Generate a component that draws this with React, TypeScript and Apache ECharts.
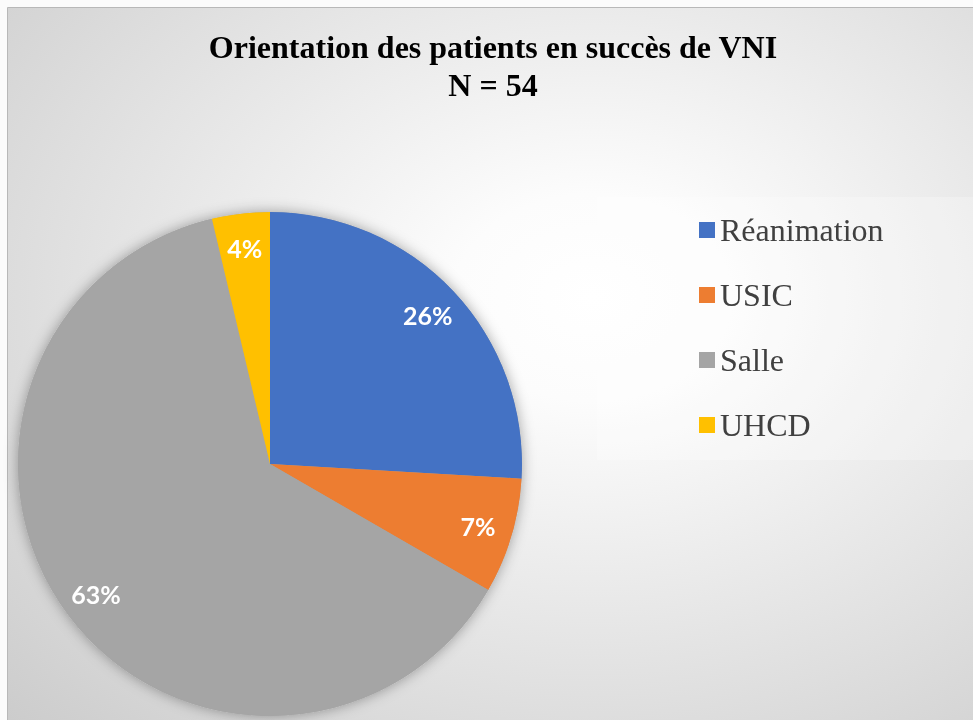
import React, { useEffect, useRef } from "react";
import * as echarts from "echarts";

const categories = ["Réanimation", "USIC", "Salle", "UHCD"];
const patientCounts = [14, 4, 34, 2];
const sliceColors = ["#4472C4", "#ED7D31", "#A5A5A5", "#FFC000"];
const titleLines = ["Orientation des patients en succès de VNI", "N = 54"];

export default function App() {
  const ref = useRef<HTMLDivElement>(null);
  useEffect(() => {
    if (!ref.current) return;
    const chart = echarts.init(ref.current, undefined, { renderer: "svg" });
    const data = categories.map((name, i) => ({
      name,
      value: patientCounts[i],
      itemStyle: { color: sliceColors[i] },
    }));
    const total = patientCounts.reduce((a, b) => a + b, 0);
    const center = [270, 464];
    const R = 252;
    chart.setOption({
      animation: false,
      graphic: [
        { type: "rect", z: -20, silent: true, shape: { x: 0, y: 0, width: 973, height: 720 }, style: { fill: "#fbfbfb" } },
        {
          type: "rect",
          z: -19,
          silent: true,
          shape: { x: 7.5, y: 7.5, width: 975, height: 725 },
          style: {
            fill: new echarts.graphic.RadialGradient(0.6, 0.4, 0.95, [
              { offset: 0, color: "#ffffff" },
              { offset: 0.15, color: "#fcfcfc" },
              { offset: 1, color: "#c4c4c4" },
            ]),
            stroke: "#b8b8b8",
            lineWidth: 1,
          },
        },
        {
          type: "rect",
          z: -18,
          silent: true,
          shape: { x: 597, y: 197, width: 380, height: 263 },
          style: { fill: "rgba(255,255,255,0.25)" },
        },
      ],
      title: {
        text: titleLines.join("\n"),
        left: 488,
        textAlign: "center",
        top: 23,
        textStyle: {
          fontFamily: "Liberation Serif",
          fontWeight: "bold",
          fontSize: 32,
          lineHeight: 38,
          color: "#000000",
        },
      },
      legend: {
        orient: "vertical",
        left: 694,
        top: 209,
        icon: "rect",
        itemWidth: 16,
        itemHeight: 16,
        itemGap: 33,
        data: categories,
        textStyle: {
          fontFamily: "Liberation Serif",
          fontSize: 32,
          lineHeight: 32,
          color: "#404040",
        },
      },
      series: [
        {
          type: "pie",
          silent: true,
          z: 1,
          center,
          radius: R,
          label: { show: false },
          labelLine: { show: false },
          data: [
            {
              name: "__shadow",
              value: total,
              itemStyle: { color: "#a5a5a5", shadowBlur: 14, shadowColor: "rgba(0,0,0,0.35)" },
            },
          ],
        },
        {
          type: "pie",
          z: 2,
          center,
          radius: R,
          startAngle: 90,
          clockwise: true,
          label: { show: false },
          labelLine: { show: false },
          data,
        },
        {
          type: "pie",
          z: 3,
          silent: true,
          center,
          radius: [176, R],
          startAngle: 90,
          clockwise: true,
          itemStyle: { color: "rgba(0,0,0,0)" },
          label: {
            show: true,
            position: "inside",
            formatter: (p: any) => Math.round(p.percent) + "%",
            color: "#ffffff",
            fontFamily: "Lato",
            fontWeight: "bold",
            fontSize: 25,
          },
          labelLine: { show: false },
          data: categories.map((name, i) => ({ name, value: patientCounts[i] })),
        },
      ],
    });
    return () => chart.dispose();
  }, []);
  return (
    <div
      ref={ref}
      style={{ position: "fixed", left: 0, top: 0, width: 973, height: 720 }}
    />
  );
}
